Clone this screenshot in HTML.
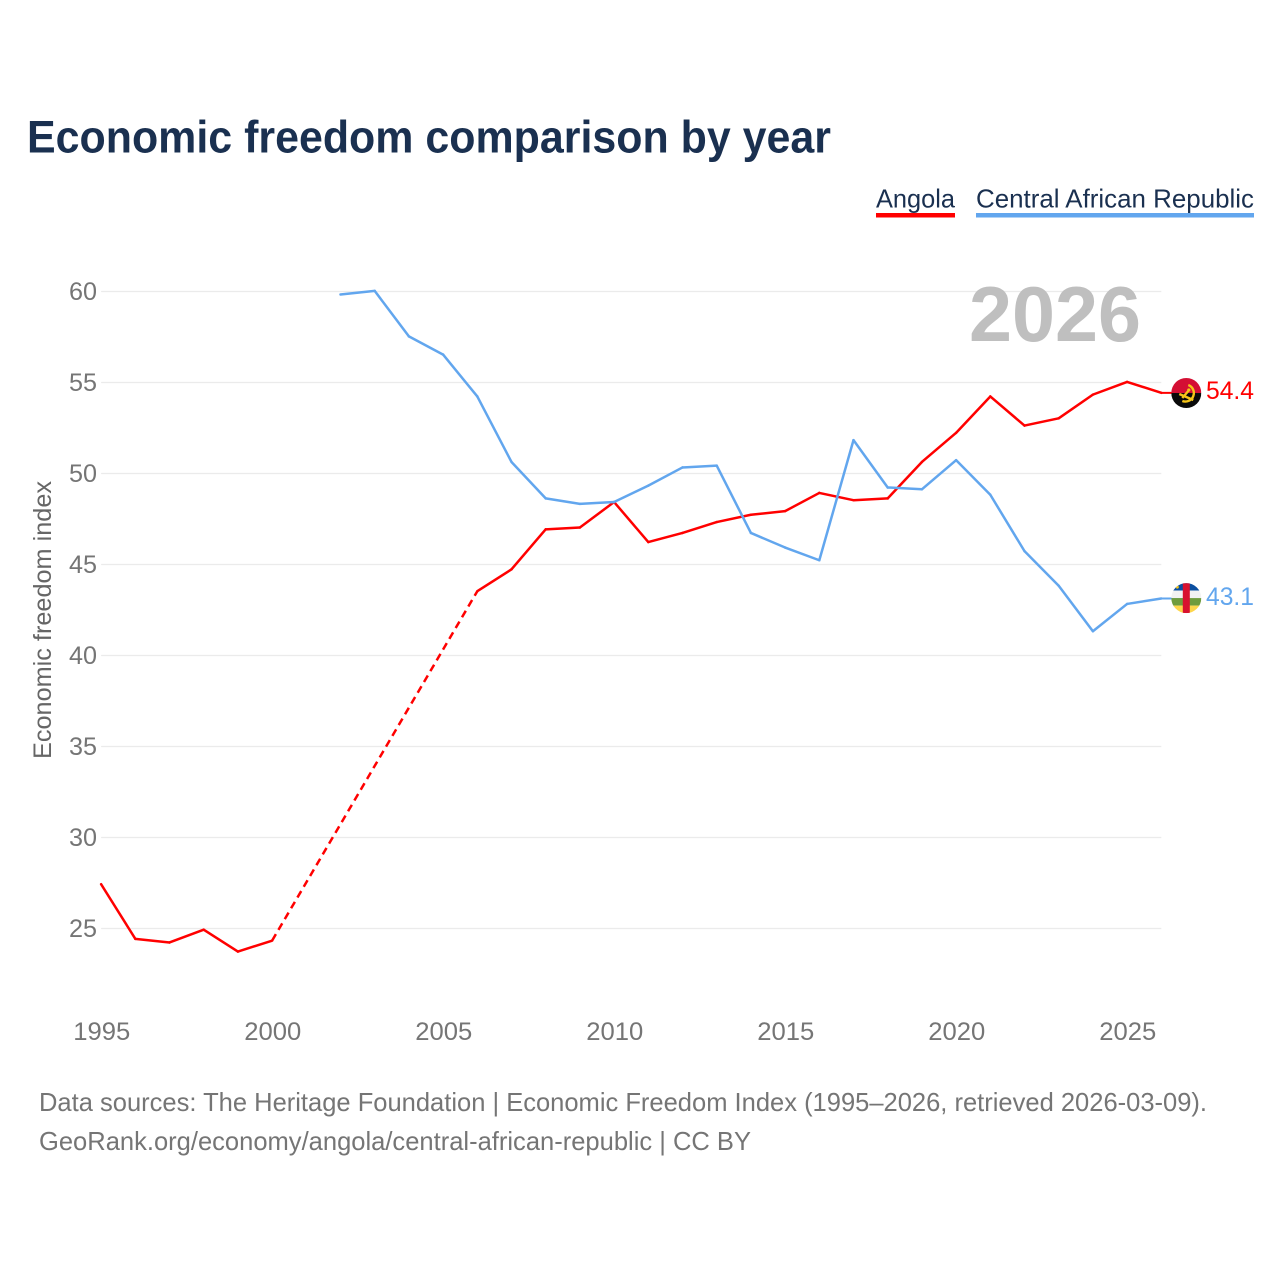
<!DOCTYPE html>
<html lang="en">
<head>
<meta charset="utf-8">
<title>Economic freedom comparison by year</title>
<style>
  html, body { margin: 0; padding: 0; background: #fff; }
  svg { display: block; font-family: "Liberation Sans", sans-serif; }
</style>
</head>
<body>
<svg id="chart" xmlns="http://www.w3.org/2000/svg" width="1280" height="1280" viewBox="0 0 1280 1280">
  <defs>
    <clipPath id="flag-clip-a"><circle cx="0" cy="0" r="15"></circle></clipPath>
    <clipPath id="flag-clip-b"><circle cx="0" cy="0" r="15"></circle></clipPath>
  </defs>
  <rect x="0" y="0" width="1280" height="1280" fill="#ffffff"></rect>
  <text x="27" y="152.5" font-size="45.5" font-weight="700" fill="#1a3050" textLength="804" lengthAdjust="spacingAndGlyphs">Economic freedom comparison by year</text>

  <text x="876" y="207.5" font-size="26" fill="#1a3050" textLength="79" lengthAdjust="spacingAndGlyphs">Angola</text>
  <rect x="876" y="213" width="79" height="4.5" fill="#ff0000"></rect>
  <text x="976" y="207.5" font-size="26" fill="#1a3050" textLength="278" lengthAdjust="spacingAndGlyphs">Central African Republic</text>
  <rect x="976" y="213" width="278" height="4.5" fill="#62a6ee"></rect>

  <g id="grid"></g>
  <g id="y-ticks"></g>
  <g id="x-ticks"></g>

  <text transform="translate(51,620) rotate(-90)" text-anchor="middle" font-size="25" fill="#666666" textLength="278" lengthAdjust="spacingAndGlyphs">Economic freedom index</text>

  <text x="969" y="341" font-size="78" font-weight="700" fill="#bfbfbf" textLength="172" lengthAdjust="spacingAndGlyphs">2026</text>

  <g id="series"></g>

  <g id="flag-angola" clip-path="url(#flag-clip-a)">
    <rect x="-15" y="-15" width="30" height="15" fill="#d40f34"></rect>
    <rect x="-15" y="0" width="30" height="15" fill="#0a0a0a"></rect>
    <path d="M2 -8 A8.5 8.5 0 0 1 -4 8" fill="none" stroke="#f5c518" stroke-width="2.4"></path>
    <path d="M-7 1 L7 7 M-4 5 L2 -2" fill="none" stroke="#f5c518" stroke-width="2.4"></path>
    <circle cx="2.5" cy="-3" r="1.6" fill="#f5c518"></circle>
  </g>
  <g id="flag-car" clip-path="url(#flag-clip-b)">
    <rect x="-15" y="-15" width="30" height="7.5" fill="#0b4fa0"></rect>
    <rect x="-15" y="-7.5" width="30" height="7.5" fill="#f2f2f2"></rect>
    <rect x="-15" y="0" width="30" height="7.5" fill="#6f9c3d"></rect>
    <rect x="-15" y="7.5" width="30" height="7.5" fill="#fdd64b"></rect>
    <rect x="-3.5" y="-15" width="7" height="30" fill="#d8112f"></rect>
    <circle cx="-9" cy="-11" r="1.5" fill="#f5c518"></circle>
  </g>

  <text id="label-angola" x="1206" font-size="25" fill="#ff0000" textLength="48" lengthAdjust="spacingAndGlyphs"></text>
  <text id="label-car" x="1206" font-size="25" fill="#62a6ee" textLength="48" lengthAdjust="spacingAndGlyphs"></text>

  <text x="39" y="1111" font-size="26" fill="#757575" textLength="1168" lengthAdjust="spacingAndGlyphs">Data sources: The Heritage Foundation | Economic Freedom Index (1995–2026, retrieved 2026-03-09).</text>
  <text x="39" y="1150" font-size="26" fill="#757575" textLength="712" lengthAdjust="spacingAndGlyphs">GeoRank.org/economy/angola/central-african-republic | CC BY</text>
</svg>
<script>
const years = [1995,1996,1997,1998,1999,2000,2001,2002,2003,2004,2005,2006,2007,2008,2009,2010,2011,2012,2013,2014,2015,2016,2017,2018,2019,2020,2021,2022,2023,2024,2025,2026];
const angolaValues = [27.4,24.4,24.2,24.9,23.7,24.3,null,null,null,null,null,43.5,44.7,46.9,47.0,48.4,46.2,46.7,47.3,47.7,47.9,48.9,48.5,48.6,50.6,52.2,54.2,52.6,53.0,54.3,55.0,54.4];
const carValues = [null,null,null,null,null,null,null,59.8,60.0,57.5,56.5,54.2,50.6,48.6,48.3,48.4,49.3,50.3,50.4,46.7,45.9,45.2,51.8,49.2,49.1,50.7,48.8,45.7,43.8,41.3,42.8,43.1];
const yTickValues = [25,30,35,40,45,50,55,60];
const xTickValues = [1995,2000,2005,2010,2015,2020,2025];

const NS = 'http://www.w3.org/2000/svg';
function xScale(year) { return 101.1 + (year - 1995) * 34.2; }
function yScale(value) { return 927.9 - (value - 25) * 18.2; }

const gridGroup = document.getElementById('grid');
const yTickGroup = document.getElementById('y-ticks');
const xTickGroup = document.getElementById('x-ticks');
const seriesGroup = document.getElementById('series');

yTickValues.forEach(function (v) {
  const line = document.createElementNS(NS, 'line');
  
  
  line.setAttribute('x1', xScale(1995));
  line.setAttribute('x2', xScale(2026));
  line.setAttribute('y1', yScale(v) + 0.6);
  line.setAttribute('y2', yScale(v) + 0.6);
  line.setAttribute('stroke', '#ebebeb');
  line.setAttribute('stroke-width', '1.2');
  gridGroup.appendChild(line);

  const label = document.createElementNS(NS, 'text');
  
  
  label.setAttribute('x', '97');
  label.setAttribute('y', yScale(v) + 9);
  label.setAttribute('text-anchor', 'end');
  label.setAttribute('font-size', '25');
  label.setAttribute('fill', '#757575');
  label.setAttribute('textLength', '28');
  label.setAttribute('lengthAdjust', 'spacingAndGlyphs');
  label.textContent = v;
  yTickGroup.appendChild(label);
});

xTickValues.forEach(function (y) {
  const label = document.createElementNS(NS, 'text');
  
  
  label.setAttribute('x', xScale(y) + 0.7);
  label.setAttribute('y', '1040');
  label.setAttribute('text-anchor', 'middle');
  label.setAttribute('font-size', '25');
  label.setAttribute('fill', '#757575');
  label.setAttribute('textLength', '57');
  label.setAttribute('lengthAdjust', 'spacingAndGlyphs');
  label.textContent = y;
  xTickGroup.appendChild(label);
});

function drawSeries(values, color, name) {
  let prev = -1;
  values.forEach(function (v, i) {
    if (v === null) { return; }
    if (prev >= 0) {
      const seg = document.createElementNS(NS, 'line');
      
      
      seg.setAttribute('x1', xScale(years[prev]));
      seg.setAttribute('y1', yScale(values[prev]));
      seg.setAttribute('x2', xScale(years[i]));
      seg.setAttribute('y2', yScale(v));
      seg.setAttribute('stroke', color);
      seg.setAttribute('stroke-width', '2.5');
      seg.setAttribute('stroke-linecap', 'round');
      if (i - prev > 1) {
        seg.setAttribute('stroke-dasharray', '7.5 5');
        seg.setAttribute('stroke-linecap', 'butt');
      }
      seriesGroup.appendChild(seg);
    }
    prev = i;
  });
  const lastVal = values[prev];
  const leader = document.createElementNS(NS, 'line');
  
  
  leader.setAttribute('x1', xScale(years[prev]));
  leader.setAttribute('y1', yScale(lastVal));
  leader.setAttribute('x2', '1186');
  leader.setAttribute('y2', yScale(lastVal));
  leader.setAttribute('stroke', color);
  leader.setAttribute('stroke-width', '2');
  seriesGroup.appendChild(leader);
  return lastVal;
}

const angolaLast = drawSeries(angolaValues, '#ff0000', 'angola-line');
const carLast = drawSeries(carValues, '#62a6ee', 'central-african-republic-line');

document.getElementById('flag-angola').setAttribute('transform', 'translate(1186.3,' + (yScale(angolaLast) + 0.2) + ')');
document.getElementById('flag-car').setAttribute('transform', 'translate(1186.3,' + (yScale(carLast) - 0.4) + ')');

const labelA = document.getElementById('label-angola');
labelA.setAttribute('y', yScale(angolaLast) + 6);
labelA.textContent = angolaLast.toFixed(1);
const labelC = document.getElementById('label-car');
labelC.setAttribute('y', yScale(carLast) + 6.5);
labelC.textContent = carLast.toFixed(1);
</script>
</body>
</html>
